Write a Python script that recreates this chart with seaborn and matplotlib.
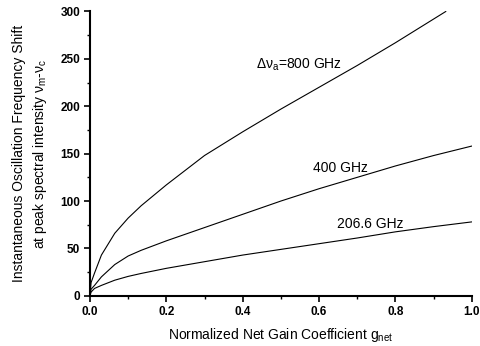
import pandas as pd
import matplotlib
matplotlib.use("Agg")
import matplotlib.pyplot as plt
from matplotlib.ticker import MultipleLocator
import seaborn as sns

# values
g_net = [0.0, 0.003, 0.012, 0.03, 0.065, 0.1, 0.134, 0.2, 0.3, 0.4, 0.5, 0.6, 0.7, 0.8, 0.9, 1.0]
g_800 = [0.0, 0.003, 0.012, 0.03, 0.065, 0.1, 0.134, 0.2, 0.3, 0.4, 0.5, 0.6, 0.7, 0.8, 0.9, 0.932]
shift_800 = [0, 14, 24, 43, 66, 82, 95, 117, 148, 173, 197, 220, 243, 267, 292, 300]
shift_400 = [0, 7, 11, 20, 33, 42, 48, 58, 72, 86, 100, 113, 125, 137, 148, 158]
shift_206 = [0, 4, 7.8, 11, 16.5, 20.5, 23.6, 29, 36, 43, 49, 55, 61, 67.5, 73, 78]
labels = ["800", "400", "206.6"]

df = pd.concat([
    pd.DataFrame({"g": g_800, "shift": shift_800, "bw": labels[0]}),
    pd.DataFrame({"g": g_net, "shift": shift_400, "bw": labels[1]}),
    pd.DataFrame({"g": g_net, "shift": shift_206, "bw": labels[2]}),
])

sns.set_style("ticks")
plt.rcParams['font.family'] = ['Liberation Sans', 'DejaVu Sans']
plt.rcParams['mathtext.fontset'] = 'custom'
plt.rcParams['mathtext.rm'] = 'Liberation Sans'
plt.rcParams['mathtext.it'] = 'Liberation Sans'
plt.rcParams['text.color'] = 'black'
plt.rcParams['axes.labelcolor'] = 'black'
plt.rcParams['xtick.color'] = 'black'
plt.rcParams['ytick.color'] = 'black'

fig = plt.figure(figsize=(4.81, 3.46), dpi=100)
ax = fig.add_axes([0.187, 0.145, 0.794, 0.822])
sns.lineplot(data=df, x="g", y="shift", hue="bw", sort=False,
             palette=["black"] * 3, linewidth=0.8, legend=False, ax=ax)

ax.set_xlim(0, 1.0)
ax.set_ylim(0, 300)
ax.xaxis.set_major_locator(MultipleLocator(0.2))
ax.xaxis.set_minor_locator(MultipleLocator(0.1))
ax.yaxis.set_major_locator(MultipleLocator(50))
ax.yaxis.set_minor_locator(MultipleLocator(25))
ax.set_xticklabels(["%.1f" % t for t in ax.get_xticks()])
ax.tick_params(which="major", direction="out", length=4, width=1.2, labelsize=8.5, pad=3)
ax.tick_params(which="minor", direction="out", length=2.5, width=1.0)
for t in ax.get_xticklabels() + ax.get_yticklabels():
    t.set_fontweight("bold")
sns.despine(ax=ax)
for s in ["left", "bottom"]:
    ax.spines[s].set_linewidth(1.5)
    ax.spines[s].set_color("black")

ax.set_xlabel(r"Normalized Net Gain Coefficient g$_{\rm net}$", fontsize=10, labelpad=6)
ax.set_ylabel("Instantaneous Oscillation Frequency Shift\n"
              r"at peak spectral intensity $\nu_{\rm m}$-$\nu_{\rm c}$",
              fontsize=10, labelpad=8, linespacing=1.4)

ax.text(0.435, 240, r"$\Delta\nu_{\rm a}$=800 GHz", fontsize=10)
ax.text(0.585, 131, "400 GHz", fontsize=10)
ax.text(0.647, 72, "206.6 GHz", fontsize=10)

fig.savefig("out.png", dpi=100)
